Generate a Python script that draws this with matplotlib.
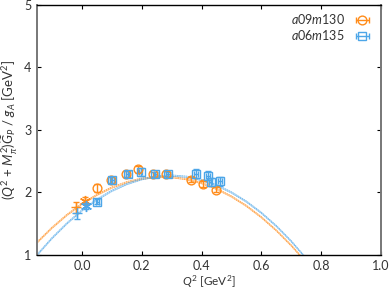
import matplotlib
matplotlib.use("Agg")
import matplotlib.pyplot as plt
import numpy as np

plt.rcParams['font.family'] = ['Lato', 'DejaVu Sans']
plt.rcParams['mathtext.fontset'] = 'custom'
plt.rcParams['mathtext.rm'] = 'Lato'
plt.rcParams['mathtext.it'] = 'Lato:italic'
plt.rcParams['mathtext.bf'] = 'Lato:bold'

ORANGE = '#FF8C1A'
BLUE = '#4DA6E8'

# a09m130 data (orange circles)
q2_a09 = [0.049, 0.097, 0.147, 0.189, 0.239, 0.282, 0.366, 0.405, 0.447]
y_a09 = [2.07, 2.20, 2.30, 2.37, 2.29, 2.30, 2.20, 2.14, 2.04]
e_a09 = [0.07, 0.05, 0.05, 0.06, 0.04, 0.04, 0.04, 0.05, 0.04]

# a06m135 data (blue squares)
q2_a06 = [0.052, 0.100, 0.153, 0.196, 0.246, 0.288, 0.381, 0.422, 0.430, 0.461]
y_a06 = [1.85, 2.20, 2.29, 2.33, 2.29, 2.29, 2.30, 2.27, 2.17, 2.18]
e_a06 = [0.04, 0.05, 0.05, 0.06, 0.04, 0.04, 0.07, 0.07, 0.06, 0.07]
xe_a06 = [0.006, 0.006, 0.006, 0.006, 0.006, 0.006, 0.006, 0.006, 0.006, 0.006]

# special points: plus and asterisk
plus_x = {'a09': -0.020, 'a06': -0.018}
plus_y = {'a09': 1.76, 'a06': 1.67}
plus_e = {'a09': 0.09, 'a06': 0.09}
ast_x = {'a09': 0.010, 'a06': 0.012}
ast_y = {'a09': 1.87, 'a06': 1.78}
ast_e = {'a09': 0.06, 'a06': 0.05}

# fit curves
curve_x = [-0.15, -0.10, -0.05, 0.00, 0.05, 0.10, 0.15, 0.20, 0.25, 0.30,
           0.35, 0.40, 0.45, 0.50, 0.55, 0.60, 0.65, 0.70, 0.75]
curve_a09 = [1.20, 1.435, 1.641, 1.816, 1.962, 2.078, 2.164, 2.221, 2.248, 2.245,
             2.212, 2.149, 2.057, 1.935, 1.784, 1.602, 1.391, 1.150, 0.879]
curve_a06 = [1.00, 1.269, 1.506, 1.712, 1.885, 2.026, 2.135, 2.212, 2.257, 2.270,
             2.251, 2.199, 2.116, 2.000, 1.853, 1.673, 1.462, 1.218, 0.942]
band_half = 0.010

FS = 9

fig = plt.figure(figsize=(3.9, 2.92), dpi=100)
ax = fig.add_axes([0.095, 0.127, 0.882, 0.856])

for cy, col in [(curve_a09, ORANGE), (curve_a06, BLUE)]:
    cy = np.array(cy)
    ax.fill_between(curve_x, cy - band_half, cy + band_half, color=col, alpha=0.15, lw=0)
    ax.plot(curve_x, cy - band_half, color=col, lw=0.6, ls=(0, (2, 0.6)), alpha=0.8)
    ax.plot(curve_x, cy + band_half, color=col, lw=0.6, ls=(0, (2, 0.6)), alpha=0.8)

ax.errorbar(q2_a09, y_a09, yerr=e_a09, fmt='o', mfc='none', mec=ORANGE, ecolor=ORANGE,
            ms=6.3, mew=1.0, elinewidth=1.0, capsize=2, capthick=1.0, zorder=3)
ax.errorbar(q2_a06, y_a06, yerr=e_a06, xerr=xe_a06, fmt='s', mfc='none', mec=BLUE, ecolor=BLUE,
            ms=6.3, mew=1.0, elinewidth=1.0, capsize=2, capthick=1.0, zorder=3)

for key, col in [('a09', ORANGE), ('a06', BLUE)]:
    ax.errorbar([plus_x[key]], [plus_y[key]], yerr=[plus_e[key]], fmt='+', color=col,
                ms=7, mew=1.0, elinewidth=1.0, capsize=2, zorder=3)
    ax.errorbar([ast_x[key]], [ast_y[key]], yerr=[ast_e[key]], fmt='none', ecolor=col,
                elinewidth=1.0, capsize=2, zorder=3)
    ax.plot([ast_x[key]], [ast_y[key]], marker=(6, 2, 0), color=col, ms=8, mew=1.0,
            ls='none', zorder=3)

# legend proxies with horizontal error bars
ax.errorbar([np.nan], [np.nan], xerr=[0.1], fmt='o', mfc='none', mec=ORANGE, ecolor=ORANGE,
            ms=6.3, mew=1.0, elinewidth=1.0, capsize=2, label='$a$09$m$130')
ax.errorbar([np.nan], [np.nan], xerr=[0.1], fmt='s', mfc='none', mec=BLUE, ecolor=BLUE,
            ms=6.3, mew=1.0, elinewidth=1.0, capsize=2, label='$a$06$m$135')

ax.set_xlim(-0.15, 1.0)
ax.set_ylim(1, 5)
ax.set_xticks([0.0, 0.2, 0.4, 0.6, 0.8, 1.0])
ax.set_xticklabels(['0.0', '0.2', '0.4', '0.6', '0.8', '1.0'])
ax.set_yticks([1, 2, 3, 4, 5])
ax.tick_params(direction='in', top=True, right=True, length=3, width=0.8,
               labelsize=FS, labelcolor='#333333', pad=4)

for s in ['left', 'right']:
    ax.spines[s].set_color('#777777')
    ax.spines[s].set_linewidth(1.4)
for s in ['top', 'bottom']:
    ax.spines[s].set_color('black')
    ax.spines[s].set_linewidth(1.0)

ax.set_xlabel(r'$Q^2$ [GeV$^2$]', fontsize=8.5, color='#333333', labelpad=1)
ax.set_ylabel(r'($Q^2$ + $M_\pi^2$)$\widetilde{G}_P$ / $g_A$ [GeV$^2$]', fontsize=9.5,
              color='#333333', labelpad=3)

leg = ax.legend(loc='upper right', frameon=False, fontsize=FS, markerfirst=False,
                handlelength=1.8, handletextpad=0.5, borderaxespad=0.2, labelspacing=0.15)
for t in leg.get_texts():
    t.set_color('#333333')

fig.savefig('out.png', dpi=100)
